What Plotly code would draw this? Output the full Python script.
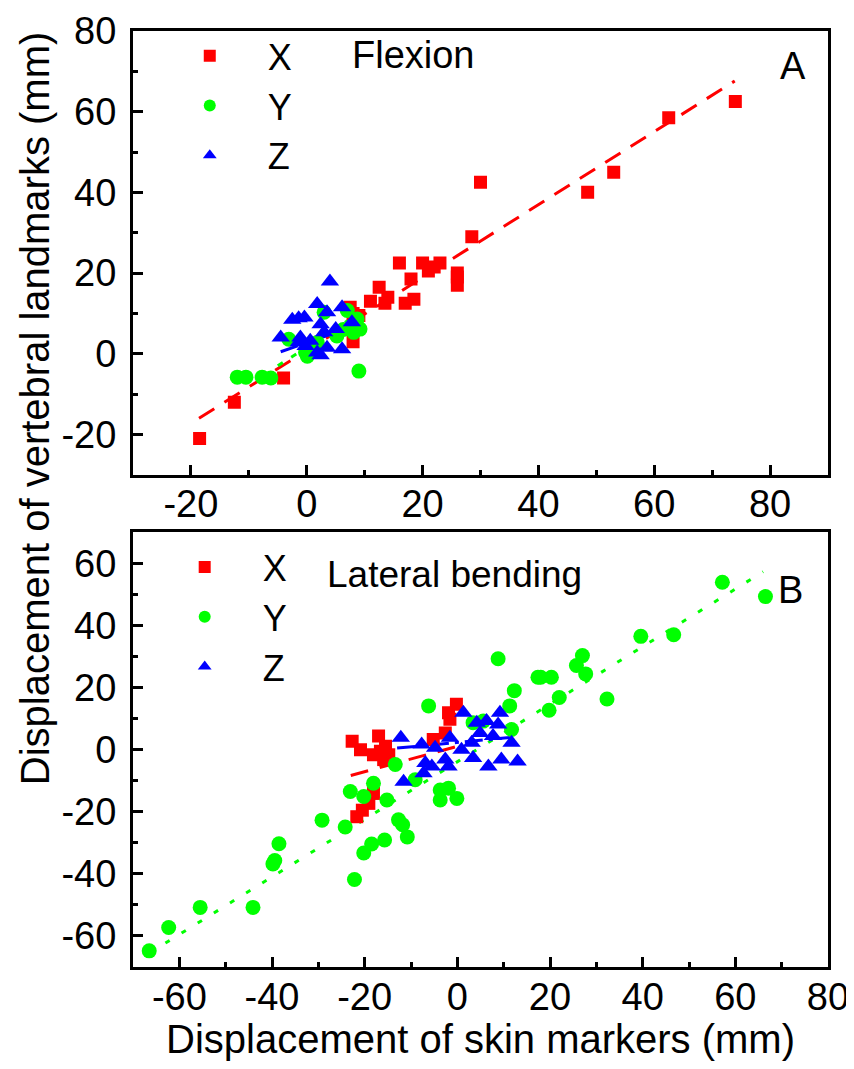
import plotly.graph_objects as go

# ---------------- Panel A: Flexion ----------------
a_x_x = [-18.5, -12.5, -4, 7.5, 8, 8, 9, 11, 12.5, 13.5, 14, 16, 17, 18, 18.5, 20, 21, 22, 23, 26, 26, 26, 28.5, 30, 48.5, 53, 62.5, 74]
a_x_y = [-21, -12, -6, 11.5, 3, 10, 9.5, 13, 16.5, 12.5, 14, 22.5, 12.5, 18.5, 13.5, 22.5, 20.5, 21.5, 22.5, 17, 19, 20, 29, 42.5, 40, 45, 58.5, 62.5]

a_y_x = [-12, -10.5, -7.7, -6.2, 9, -3.1, -0.2, 3, 7, 6.3, 5.2, 1.8, 0.1, 8.7, 9.2, 8.1]
a_y_y = [-5.8, -5.8, -5.8, -6, -4.3, 3.6, 0.3, 10.3, 10.7, 6, 4.4, 2.8, -0.6, 8.6, 6.1, 5.3]

a_z_x = [4, 1.8, 6.1, -2.5, -1.4, -0.4, 3.5, 2.4, 7.8, -4.5, -1.1, 3, 5, 1.8, 3.5, 6.1, 0.6, -0.2, 2.4, -1.4]
a_z_y = [17.9, 12.3, 11.5, 8.4, 8.8, 9, 10.3, 7.3, 7.8, 4, 4, 5.3, 6.1, 0.3, 1.5, 1.1, 3.2, 1.9, -0.4, 2.8]

a_fit_x_x = [-18.6, 73.9]
a_fit_x_y = [-16.0, 67.6]
a_fit_y_x = [-5.0, 9.0]
a_fit_y_y = [-3.0, 10.0]
a_fit_z_x = [-4.5, 8.5]
a_fit_z_y = [0.5, 7.0]

a_xticks = [-20, 0, 20, 40, 60, 80]
a_xticktext = ["-20", "0", "20", "40", "60", "80"]
a_yticks = [-20, 0, 20, 40, 60, 80]
a_yticktext = ["-20", "0", "20", "40", "60", "80"]

# ---------------- Panel B: Lateral bending ----------------
b_x_x = [-22.7, -20.9, -17, -16.6, -18.1, -15.5, -14.8, -15.9, -1.9, -0.2, -1.6, -2.6, -5.2, -18.1, -19.1, -21.7, -20.5]
b_x_y = [2.7, 0, 4.4, -0.5, -1.6, 1.1, -1.6, -3.2, 11.9, 14.6, 9.8, 5.4, 3.3, -14.1, -17.3, -21.6, -19.5]

b_y_x = [-66.5, -62.3, -55.5, -44.1, -39.4, -38.5, -39.8, -29.2, -24.2, -23.1, -20.2, -18.1, -15.2, -13.4,
         -9.1, -6.2, -3.7, -1.9, -0.1, -3.7, 8.8, 12.3, 11.3, 17.4, 3.4, 11.7, 5.6, 57.2, 66.5, 39.6, 46.7,
         27, 25.7, 27.7, 18, 20.3, 22, 32.3, 19.8, -10.8, -15.7, -18.5, -20.2, -22.2, -12.7, -11.8]
b_y_y = [-64.8, -57.3, -50.8, -50.8, -35.7, -30.3, -36.8, -22.7, -24.9, -13.5, -15.1, -10.8, -16.2, -4.8,
         -9.7, 14.1, -13, -12.4, -15.7, -16.2, 29.3, 19, 14.1, 23.3, 8.7, 6.5, 9.2, 53.9, 49.3, 36.5, 37,
         30.3, 27.1, 24.4, 23.3, 23.3, 16.8, 16.3, 12.7, -28.1, -29.1, -30.4, -33.3, -41.8, -22.6, -24.2]

b_z_x = [-12.2, -11.6, -7.7, -7.3, -4.8, -5.5, -2.6, -1.6, 0.9, 3.1, 1.3, 4.2, 6.3, 9.2, 8.8, 11.7, 9.5, 6.7, 3.4, -1.9, -6.9, 4.9, 7.7, 13]
b_z_y = [3.8, -10.3, 1.7, -7.6, 0.6, -5.4, -3.2, 3.8, 0, 2.2, 11.9, 8.7, 9.2, 11.9, 8.1, 2.2, -3.2, -5.4, -2.7, -5.4, -4.3, 5.4, 4.4, -3.8]

b_fit_x_x = [-23.0, 2.0]
b_fit_x_y = [-8.3, 1.9]
b_fit_y_x = [-63.0, 66.0]
b_fit_y_y = [-62.3, 57.3]
b_fit_z_x = [-13.0, 12.0]
b_fit_z_y = [0.5, 4.0]

b_xticks = [-60, -40, -20, 0, 20, 40, 60, 80]
b_xticktext = ["-60", "-40", "-20", "0", "20", "40", "60", "80"]
b_yticks = [-60, -40, -20, 0, 20, 40, 60]
b_yticktext = ["-60", "-40", "-20", "0", "20", "40", "60"]

RED = "#FF0000"
GREEN = "#00FF00"
BLUE = "#0000FF"
FONT = "Liberation Sans, Arial, sans-serif"

fig = go.Figure()

def add_panel(xa, ya, legend, xx, xy, yx, yy, zx, zy, fx, fy, gx, gy, hx, hy, green_dash):
    fig.add_trace(go.Scatter(x=fx, y=fy, mode="lines", xaxis=xa, yaxis=ya, showlegend=False,
                             line=dict(color=RED, width=3, dash="18px,12px")))
    fig.add_trace(go.Scatter(x=gx, y=gy, mode="lines", xaxis=xa, yaxis=ya, showlegend=False,
                             line=dict(color=GREEN, width=3, dash=green_dash)))
    fig.add_trace(go.Scatter(x=hx, y=hy, mode="lines", xaxis=xa, yaxis=ya, showlegend=False,
                             line=dict(color=BLUE, width=3, dash="18px,6px,4px,6px")))
    fig.add_trace(go.Scatter(x=xx, y=xy, mode="markers", name="X", xaxis=xa, yaxis=ya, legend=legend,
                             marker=dict(symbol="square", size=13, color=RED, line=dict(width=0))))
    fig.add_trace(go.Scatter(x=yx, y=yy, mode="markers", name="Y", xaxis=xa, yaxis=ya, legend=legend,
                             marker=dict(symbol="circle", size=15, color=GREEN, line=dict(width=0))))
    fig.add_trace(go.Scatter(x=zx, y=zy, mode="markers", name="Z", xaxis=xa, yaxis=ya, legend=legend,
                             marker=dict(symbol="triangle-up", size=16, color=BLUE, line=dict(width=0))))

add_panel("x", "y", "legend", a_x_x, a_x_y, a_y_x, a_y_y, a_z_x, a_z_y,
          a_fit_x_x, a_fit_x_y, a_fit_y_x, a_fit_y_y, a_fit_z_x, a_fit_z_y, "6px,10px")
add_panel("x2", "y2", "legend2", b_x_x, b_x_y, b_y_x, b_y_y, b_z_x, b_z_y,
          b_fit_x_x, b_fit_x_y, b_fit_y_x, b_fit_y_y, b_fit_z_x, b_fit_z_y, "5px,14px")

axis_common = dict(
    showline=True, linecolor="black", linewidth=3, mirror=True, automargin=False,
    ticks="inside", ticklen=10, tickwidth=3, tickcolor="black",
    showgrid=False, zeroline=False, tickmode="array",
    tickfont=dict(family=FONT, size=38, color="black"),
    minor=dict(ticks="inside", ticklen=5, tickwidth=3, tickcolor="black", dtick=10, tick0=0, showgrid=False),
)

# the page body adds an 8px offset, so the figure is 8px smaller on each axis
fig.update_layout(
    width=846, height=1061,
    margin=dict(l=125, r=26, t=23, b=102, autoexpand=False),
    paper_bgcolor="white", plot_bgcolor="white",
    font=dict(family=FONT, color="black"),
    xaxis=dict(domain=[0, 1], anchor="y", range=[-30, 90], tickvals=a_xticks, ticktext=a_xticktext,
               ticklabelstandoff=-6, **axis_common),
    yaxis=dict(domain=[0.5259, 1], anchor="x", range=[-30, 80], tickvals=a_yticks, ticktext=a_yticktext,
               ticklabelstandoff=6, **axis_common),
    xaxis2=dict(domain=[0, 1], anchor="y2", range=[-70, 80], tickvals=b_xticks, ticktext=b_xticktext,
                ticklabelstandoff=-6, **axis_common),
    yaxis2=dict(domain=[0, 0.4644], anchor="x2", range=[-70, 70], tickvals=b_yticks, ticktext=b_yticktext,
                ticklabelstandoff=6, **axis_common),
    legend=dict(x=0.027, y=1.0055, xanchor="left", yanchor="top", bgcolor="rgba(0,0,0,0)",
                font=dict(family=FONT, size=36), itemwidth=106, itemsizing="constant",
                tracegroupgap=0),
    legend2=dict(x=0.0197, y=0.4593, xanchor="left", yanchor="top", bgcolor="rgba(0,0,0,0)",
                 font=dict(family=FONT, size=36), itemwidth=106, itemsizing="constant",
                 tracegroupgap=0),
)

ann = [
    dict(text="Flexion", x=(350 - 133) / 695, y=(959 - 55) / 928, xanchor="left", yanchor="middle", size=38),
    dict(text="A", x=(808 - 133) / 695, y=(959 - 66) / 928, xanchor="right", yanchor="middle", size=38),
    dict(text="Lateral bending", x=(325 - 133) / 695, y=(959 - 570) / 928, xanchor="left", yanchor="middle", size=37),
    dict(text="B", x=(805 - 133) / 695, y=(959 - 585) / 928, xanchor="right", yanchor="middle", size=38),
    dict(text="Displacement of skin markers (mm)", x=0.5, y=(959 - 1030) / 928, xanchor="center",
         yanchor="middle", size=40),
    dict(text="Displacement of vertebral landmarks (mm)", x=(35 - 133) / 695, y=(959 - 405) / 928,
         xanchor="center", yanchor="middle", textangle=-90, size=40),
]
for a in ann:
    s = a.pop("size")
    a.update(xref="paper", yref="paper", showarrow=False, font=dict(family=FONT, size=s, color="black"))
    fig.add_annotation(**a)

fig.write_html("out.html")
